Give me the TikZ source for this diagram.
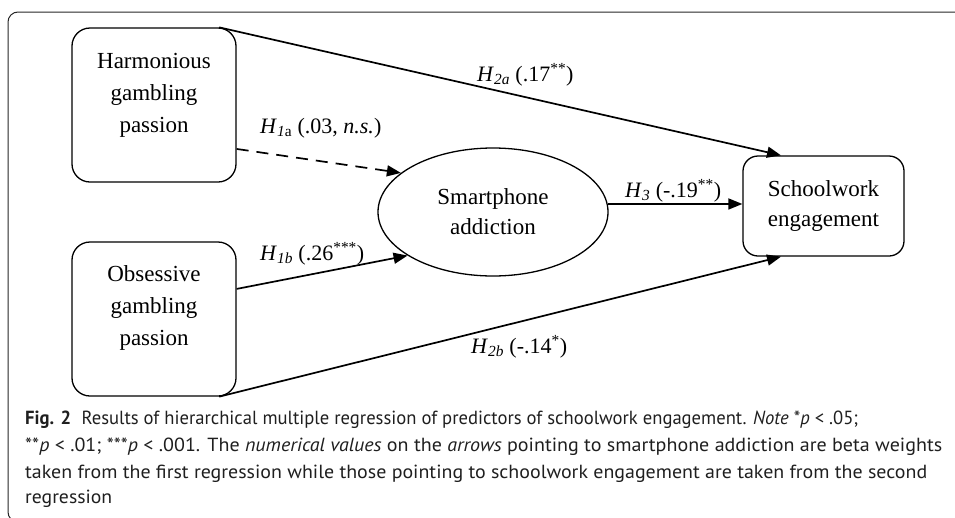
\documentclass[tikz,border=0pt]{standalone}
\usepackage{fontspec}
\usepackage{graphicx}
\setmainfont{Liberation Serif}
\newfontfamily\capfont{PT Sans}
\usetikzlibrary{arrows.meta,shapes.geometric,calc}

% caption line stretched to a given width, height unchanged
\newcommand{\capfit}[2]{\resizebox{#1}{\height}{#2}}

\begin{document}
\begin{tikzpicture}[x=1pt,y=-1pt,
  varbox/.style={draw, line width=1.3pt, rounded corners=18pt,
    minimum width=164pt, minimum height=154pt, inner sep=0pt},
  vartext/.style={align=center, font=\fontsize{23}{32}\selectfont, inner sep=0pt},
  outbox/.style={draw, line width=1.3pt, rounded corners=15pt,
    minimum width=161pt, minimum height=100pt, align=center,
    font=\fontsize{23}{30}\selectfont, inner sep=0pt},
  medellipse/.style={draw, ellipse, line width=1.3pt, minimum width=230pt,
    minimum height=128pt, align=center, font=\fontsize{23}{30}\selectfont, inner sep=0pt},
  arr/.style={-{Triangle[length=14pt,width=11pt]}, line width=1.7pt},
  pathlabel/.style={anchor=base west, inner sep=0pt, font=\fontsize{22}{26}\selectfont},
  capline/.style={anchor=base west, inner sep=0pt, text=black!88,
    font=\capfont\fontsize{19}{26}\selectfont}
]
\useasboundingbox (0,0) rectangle (955,517);

% outer figure frame
\draw[line width=1pt, black!85, rounded corners=10pt] (958,12) -- (8,12) -- (8,522) -- (40,522);

% variables
\node[varbox] (harm) at (154,105) {};
\node[vartext] (harmtxt) at (154,95) {Harmonious\\gambling\\passion};
\node[varbox] (obs) at (154,319) {};
\node[vartext] (obstxt) at (154,308) {Obsessive\\gambling\\passion};
\node[medellipse] (smart) at (493,212) {Smartphone\\addiction};
\node[outbox] (school) at (823.5,206) {Schoolwork\\engagement};

% paths
\draw[arr] (harm.50) -- (school.130);
\draw[arr, dash pattern=on 12pt off 8pt] (harm.-28.5) -- (smart.157);
\draw[arr] (obs.20.5) -- (smart.207);
\draw[arr] (smart.4) -- (smart.4 -| school.west);
\draw[arr] (obs.-50) -- (school.230);

% path labels
\node[pathlabel] (l2a) at (477,81) {\textit{H}\textsubscript{\textit{2a}} (.17\textsuperscript{**})};
\node[pathlabel] (l1a) at (260,133) {\textit{H}\textsubscript{\textit{1}a} (.03, \textit{n.s.})};
\node[pathlabel] (l1b) at (260,260) {\textit{H}\textsubscript{\textit{1b}} (.26\textsuperscript{***})};
\node[pathlabel] (l3) at (625,197) {\textit{H}\textsubscript{\textit{3}} (-.19\textsuperscript{**})};
\node[pathlabel] (l2b) at (471,353) {\textit{H}\textsubscript{\textit{2b}} (-.14\textsuperscript{*})};

% caption
\node[capline] (cap1) at (25,424) {\capfit{833pt}{\textbf{Fig. 2}\hspace{0.3em} Results of hierarchical multiple regression of predictors of schoolwork engagement. \textit{Note} *\textit{p} < .05;}};
\node[capline] (cap2) at (25,451) {\capfit{917pt}{**\textit{p} < .01; ***\textit{p} < .001. The \textit{numerical values} on the \textit{arrows} pointing to smartphone addiction are beta weights}};
\node[capline] (cap3) at (25,478) {\capfit{902pt}{taken from the first regression while those pointing to schoolwork engagement are taken from the second}};
\node[capline] (cap4) at (25,503) {\capfit{87pt}{regression}};
\end{tikzpicture}
\end{document}
